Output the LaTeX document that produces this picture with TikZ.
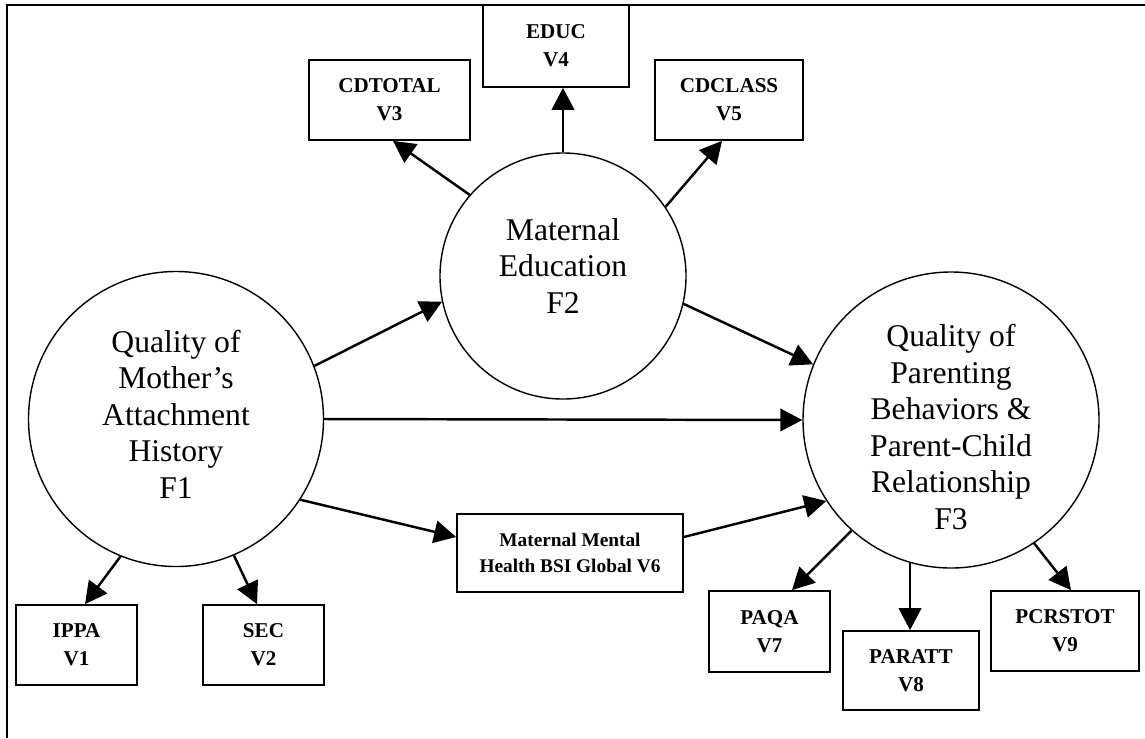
\documentclass[tikz,border=0pt]{standalone}
\usepackage{fontspec}
\setmainfont{Liberation Serif}
\usetikzlibrary{arrows.meta}
\tikzset{
  factor/.style={
    circle, draw, line width=0.8pt, inner sep=0pt,
    minimum size=#1, align=center,
    font=\fontsize{18}{20.8}\selectfont,
  },
  measure/.style={
    draw, line width=1pt, inner sep=0pt, align=center,
    font=\fontsize{12}{16}\selectfont\bfseries,
  },
  link/.style={
    -{Triangle[length=4.4mm, width=4.5mm]}, line width=1.4pt,
  },
}

\begin{document}
\begin{tikzpicture}[x=0.2mm, y=-0.2mm]
\useasboundingbox (0,0) rectangle (1145,738);
\draw[line width=0.8pt] (7,738) -- (7,5) -- (1145,5);

% latent factors (the rules nudge the text up or down in the circle)
\node[factor=59mm] (f1) at (176,419)
  {Quality of\\Mother's\\Attachment\\History\\F1\rule[-2mm]{0pt}{0pt}};
\node[factor=49.2mm] (f2) at (563,276)
  {Maternal\\Education\\F2\rule[-4mm]{0pt}{0pt}};
\node[factor=59.2mm] (f3) at (951,420)
  {\rule{0pt}{7.2mm}Quality of\\Parenting\\Behaviors \&\\Parent-Child\\Relationship\\F3};

% measured variables
\node[measure, minimum width=24.2mm, minimum height=16mm] (v1) at (76.5,645) {IPPA\\V1};
\node[measure, minimum width=24.2mm, minimum height=16mm] (v2) at (263.5,645) {SEC\\V2};
\node[measure, minimum width=32.2mm, minimum height=16mm] (v3) at (389.5,100) {CDTOTAL\\V3};
\node[measure, minimum width=29.2mm, minimum height=16.4mm] (v4) at (556,46) {EDUC\\V4};
\node[measure, minimum width=29.6mm, minimum height=16mm] (v5) at (729,100) {CDCLASS\\V5};
\node[measure, minimum width=45.2mm, minimum height=15.6mm,
  font=\fontsize{11}{14.5}\selectfont\bfseries] (v6) at (570,553) {Maternal Mental\\Health BSI Global V6};
\node[measure, minimum width=24.2mm, minimum height=16.2mm] (v7) at (769.5,631.5) {PAQA\\V7};
\node[measure, minimum width=27.2mm, minimum height=15.8mm] (v8) at (911,670.5) {PARATT\\V8};
\node[measure, minimum width=29.6mm, minimum height=16mm] (v9) at (1065,631) {PCRSTOT\\V9};

% structural paths
\draw[link] (f1.21) -- (f2.192);
\draw[link] (f2.-13) -- (f3.158);
\draw[link] (f1.east) -- (f3.west);
\draw[link] (f1.-33) -- (v6.172);
\draw[link] (v6.8) -- (f3.213);

% loadings
\draw[link] (f1.248) -- ([xshift=1.7mm]v1.north);
\draw[link] (f1.-67) -- ([xshift=-1.3mm]v2.north);
\draw[link] (f2.139) -- ([xshift=0.7mm]v3.south);
\draw[link] (f2.north) -- (f2.north |- v4.south);
\draw[link] (f2.34) -- ([xshift=-1.4mm]v5.south);
\draw[link] (f3.228) -- ([xshift=4.5mm]v7.north);
\draw[link] (f3.254) -- (f3.254 |- v8.north);
\draw[link] (f3.-56) -- ([xshift=1.2mm]v9.north);
\end{tikzpicture}
\end{document}
